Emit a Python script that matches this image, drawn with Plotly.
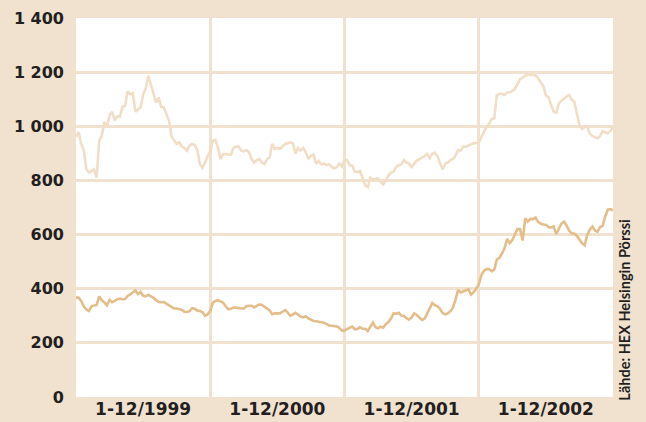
import plotly.graph_objects as go

# Week index from start of 1999 (0..208)
weeks = list(range(209))

upper = [
    960, 979, 935, 912, 841, 829, 835, 841, 810, 947, 966, 1016, 997, 1041, 1054, 1022,
    1037, 1035, 1072, 1075, 1129, 1119, 1122, 1054, 1062, 1070, 1116, 1141, 1187, 1154,
    1129, 1087, 1107, 1072, 1070, 1047, 1022, 962, 947, 935, 941, 925, 920, 910, 929, 935,
    931, 912, 860, 847, 866, 891, 907,
    947, 950, 920, 879, 897, 897, 895, 895, 920, 925, 925, 910, 907, 912, 904, 879, 866,
    875, 879, 866, 860, 879, 885, 935, 916, 920, 916, 925, 935, 937, 941, 937, 900, 920,
    910, 920, 904, 879, 891, 895, 862, 872, 860, 862, 857, 860, 850, 845, 850, 862, 852,
    878, 875, 857, 855, 833, 831, 835, 812, 782, 775, 810, 803, 805, 808, 794, 786, 800,
    818, 829, 832, 849, 857, 859, 875, 866, 862, 849, 860, 874, 878, 883, 890, 898, 882,
    898, 902, 890, 862, 840, 862, 866, 875, 879, 891, 912, 910, 925, 925, 930, 935, 937,
    938, 941,
    960, 977, 998, 1008, 1027, 1029, 1115, 1120, 1120, 1116, 1125, 1126, 1130, 1138, 1155,
    1174, 1180, 1187, 1190, 1191, 1191, 1188, 1178, 1162, 1149, 1115, 1107, 1080, 1054,
    1050, 1084, 1094, 1103, 1110, 1115, 1099, 1091, 1050, 1005, 990, 997, 1000, 973, 964,
    960, 955, 964, 982, 977, 974, 983, 995,
]

lower = [
    367, 367, 355, 335, 323, 318, 335, 339, 340, 372, 357, 349, 339, 359, 350, 355, 361,
    363, 361, 362, 373, 379, 386, 394, 380, 388, 374, 372, 378, 373, 366, 358, 352, 350,
    351, 345, 338, 332, 327, 327, 323, 322, 315, 314, 317, 328, 326, 319, 318, 313, 300,
    306,
    318, 348, 355, 357, 353, 348, 335, 324, 326, 330, 330, 328, 327, 327, 335, 337, 337,
    331, 336, 342, 340, 334, 328, 320, 306, 309, 309, 309, 315, 321, 312, 300, 305, 311,
    305, 297, 294, 298, 290, 284, 281, 280, 278, 277, 274, 270, 264, 263, 262, 261, 255,
    245,
    246, 252, 256, 260, 250, 251, 258, 252, 252, 244, 260, 275, 258, 254, 260, 256, 269,
    277, 290, 309, 308, 311, 301, 299, 291, 286, 294, 309, 303, 293, 285, 289, 310, 332,
    347, 339, 335, 326, 310, 305, 309, 317, 330, 360, 396, 386, 390, 397, 398, 378, 387,
    400,
    416, 450, 466, 473, 472, 465, 470, 508, 514, 530, 550, 584, 568, 580, 602, 620, 620,
    578, 660, 648, 658, 657, 663, 646, 641, 637, 636, 628, 626, 630, 602, 622, 640, 648,
    634, 615, 604, 604, 595, 582, 568, 560, 598, 618, 630, 615, 610, 628, 632, 668, 692,
    694, 690,
]

year_label_pos = [26, 78, 130, 182]
year_labels = ["1-12/1999", "1-12/2000", "1-12/2001", "1-12/2002"]
y_tick_vals = [0, 200, 400, 600, 800, 1000, 1200, 1400]
y_tick_text = ["0", "200", "400", "600", "800", "1 000", "1 200", "1 400"]

BG = "#F1E2D0"
GRID = "#F1E2D0"
TEXT = "#231F20"
FONT = "DejaVu Sans"

fig = go.Figure()
fig.add_trace(go.Scatter(x=weeks, y=upper, mode="lines",
                         line=dict(color="#F0DEC6", width=2.6), showlegend=False))
fig.add_trace(go.Scatter(x=weeks, y=lower, mode="lines",
                         line=dict(color="#E3BE8B", width=2.6), showlegend=False))

fig.update_layout(
    width=646, height=422,
    margin=dict(l=76, r=33, t=18, b=25),
    paper_bgcolor=BG, plot_bgcolor="white",
    font=dict(family=FONT, color=TEXT, size=16),
    showlegend=False,
)
fig.update_xaxes(
    range=[0, 208], tickmode="array", tickvals=year_label_pos, ticktext=year_labels,
    showgrid=False, zeroline=False, ticks="", showline=False, automargin=False,
    ticklabelstandoff=0,
    tickfont=dict(family=FONT, size=17, color=TEXT, weight="bold"),
    minor=dict(tick0=0, dtick=52, showgrid=True, gridcolor=GRID, gridwidth=2.5, ticks=""),
)
fig.update_yaxes(
    range=[0, 1400], tickmode="array", tickvals=y_tick_vals, ticktext=y_tick_text,
    showgrid=True, gridcolor=GRID, gridwidth=2.5, zeroline=False, ticks="",
    showline=False, ticklabelstandoff=11, automargin=False,
    tickfont=dict(family=FONT, size=16, color=TEXT, weight="bold"),
)
fig.add_annotation(
    text="Lähde: HEX Helsingin Pörssi", textangle=-90,
    xref="paper", yref="paper", x=1.022, y=0.23, xanchor="center", yanchor="middle",
    showarrow=False, font=dict(family="Lato", size=14.5, color=TEXT, weight="bold"),
)

fig.write_html(
    "out.html",
    config={"displayModeBar": False},
    post_script="document.body.style.margin='0';document.body.style.background='#F1E2D0';",
)
